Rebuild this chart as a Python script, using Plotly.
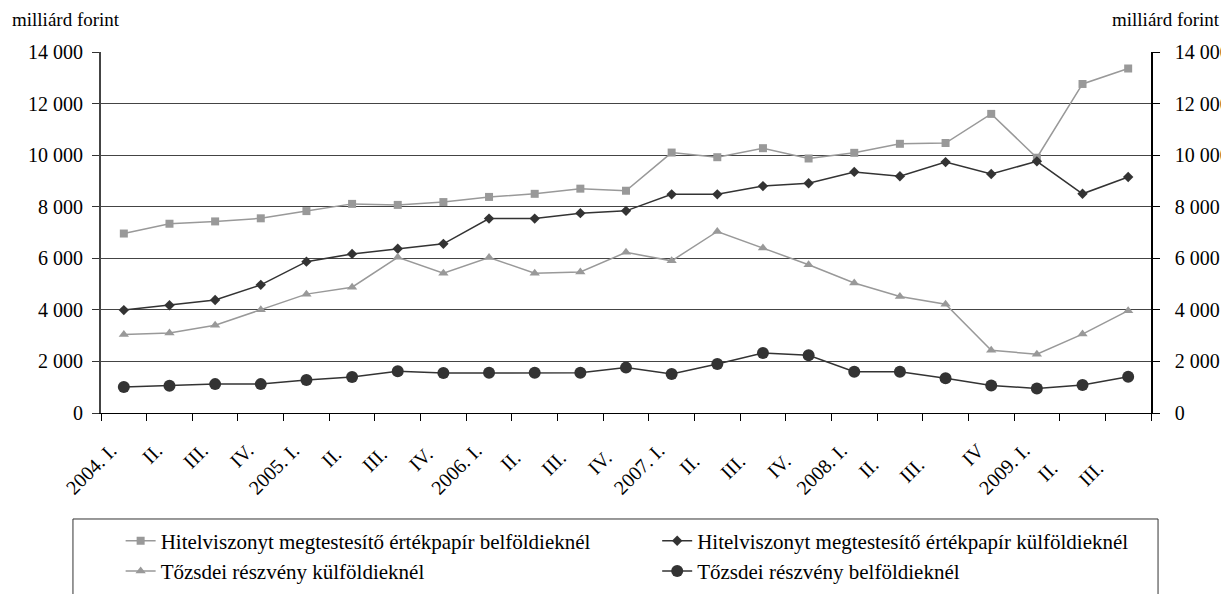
import plotly.graph_objects as go

categories = ["2004. I.", "II.", "III.", "IV.",
              "2005. I.", "II. ", "III. ", "IV. ",
              "2006. I.", "II.  ", "III.  ", "IV.  ",
              "2007. I.", "II.   ", "III.   ", "IV.   ",
              "2008. I.", "II.    ", "III.    ", "IV",
              "2009. I.", "II.     ", "III.     "]

hitel_belfold = [6960, 7340, 7430, 7550, 7830, 8110, 8070, 8180, 8380, 8500, 8700, 8620,
                 10100, 9920, 10270, 9870, 10090, 10440, 10470, 11600, 9900, 12760, 13360]
hitel_kulfold = [3990, 4180, 4380, 4970, 5870, 6170, 6370, 6560, 7540, 7540, 7750, 7840,
                 8480, 8480, 8800, 8910, 9350, 9180, 9730, 9270, 9760, 8500, 9150]
reszveny_kulfold = [3040, 3100, 3400, 4000, 4610, 4880, 6040, 5420, 6030, 5420, 5470, 6230,
                    5900, 7040, 6400, 5750, 5040, 4520, 4220, 2430, 2280, 3060, 3970]
reszveny_belfold = [1010, 1060, 1120, 1120, 1280, 1400, 1620, 1550, 1560, 1560, 1560, 1760,
                    1510, 1900, 2330, 2240, 1600, 1600, 1350, 1070, 950, 1090, 1410]

names = ["Hitelviszonyt megtestesítő értékpapír belföldieknél",
         "Hitelviszonyt megtestesítő értékpapír külföldieknél",
         "Tőzsdei részvény külföldieknél",
         "Tőzsdei részvény belföldieknél"]

FONT = "Liberation Serif"
GRAY = "#999999"
DARK = "#333333"

fig = go.Figure()
fig.add_trace(go.Scatter(x=categories, y=hitel_belfold, name=names[0], mode="lines+markers",
                         legend="legend",
                         line=dict(color=GRAY, width=1.5),
                         marker=dict(symbol="square", size=8, color=GRAY)))
fig.add_trace(go.Scatter(x=categories, y=hitel_kulfold, name=names[1], mode="lines+markers",
                         legend="legend2",
                         line=dict(color=DARK, width=1.5),
                         marker=dict(symbol="diamond", size=8, color=DARK)))
fig.add_trace(go.Scatter(x=categories, y=reszveny_kulfold, name=names[2], mode="lines+markers",
                         legend="legend",
                         line=dict(color=GRAY, width=1.5),
                         marker=dict(symbol="triangle-up", size=9, color=GRAY)))
fig.add_trace(go.Scatter(x=categories, y=reszveny_belfold, name=names[3], mode="lines+markers",
                         legend="legend2",
                         line=dict(color=DARK, width=1.5),
                         marker=dict(symbol="circle", size=12, color=DARK)))
# invisible trace to carry the right-hand axis
fig.add_trace(go.Scatter(x=categories, y=reszveny_belfold, yaxis="y2", mode="lines",
                         line=dict(color="rgba(0,0,0,0)"), showlegend=False, hoverinfo="skip"))

legend_common = dict(orientation="v", yanchor="top", xanchor="left",
                     font=dict(family=FONT, size=21, color="black"),
                     bgcolor="rgba(0,0,0,0)", borderwidth=0, itemwidth=30,
                     tracegroupgap=0)

# the page body adds an 8px offset; the figure is taller than the window so the
# legend box runs past the bottom edge as in the reference
fig.update_layout(
    width=1221, height=640,
    margin=dict(l=93, r=78, t=44, b=235),
    paper_bgcolor="white", plot_bgcolor="white",
    font=dict(family=FONT, size=20, color="black"),
    separators=", ",
    showlegend=True,
    legend=dict(x=0.0187, y=-0.298, **legend_common),
    legend2=dict(x=0.5297, y=-0.298, **legend_common),
    xaxis=dict(type="category", range=[-0.5, 22.5], tickangle=-45,
               tickson="boundaries", ticks="outside", ticklen=7, tickcolor="black",
               showline=True, linecolor="black", linewidth=1, showgrid=False,
               ticklabelstandoff=17, ticklabelshift=-13,
               tickfont=dict(size=20), automargin=False),
    yaxis=dict(range=[0, 14000], dtick=2000, separatethousands=True, exponentformat="none",
               ticks="outside", ticklen=7, tickcolor="#333333",
               showline=True, linecolor="#444444", linewidth=2,
               showgrid=True, gridcolor="#444444", gridwidth=1,
               zeroline=False, ticklabelstandoff=5, tickfont=dict(size=20), automargin=False),
    yaxis2=dict(range=[0, 14000], dtick=2000, separatethousands=True, exponentformat="none",
                overlaying="y",
                side="right", ticks="outside", ticklen=7, tickcolor="black",
                showline=True, linecolor="black", linewidth=1.5, showgrid=False,
                zeroline=False, ticklabelstandoff=11, tickfont=dict(size=20), automargin=False),
    shapes=[dict(type="rect", xref="paper", yref="paper",
                 x0=-0.0267, x1=1.0067, y0=-0.2936, y1=-0.6,
                 line=dict(color="#333333", width=1), fillcolor="rgba(0,0,0,0)")],
    annotations=[
        dict(text="milliárd forint", xref="paper", yref="paper", x=-0.0867, y=1.089,
             xanchor="left", yanchor="middle", showarrow=False,
             font=dict(family=FONT, size=19, color="black")),
        dict(text="milliárd forint", xref="paper", yref="paper", x=1.0676, y=1.089,
             xanchor="right", yanchor="middle", showarrow=False,
             font=dict(family=FONT, size=19, color="black")),
    ],
)

fig.write_html("out.html")
